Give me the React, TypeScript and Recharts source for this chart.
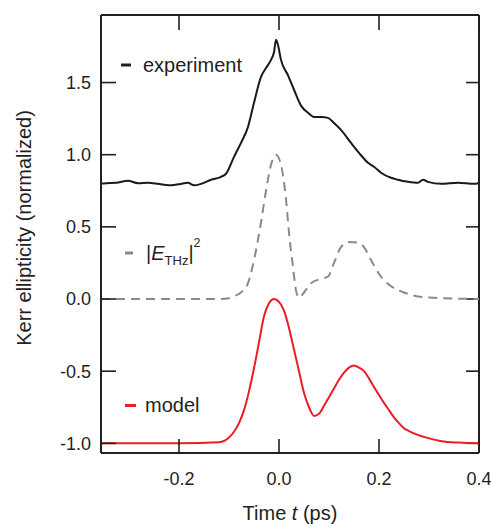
import { LineChart, Line, XAxis, YAxis, ReferenceLine } from "recharts";

// time axis in ps, Kerr ellipticity normalized (experiment offset by +0.8, model by -1)
const experimentT = [
  -0.356, -0.346, -0.326, -0.302, -0.282, -0.262, -0.242, -0.22, -0.202, -0.182,
  -0.17, -0.156, -0.136, -0.116, -0.106, -0.09, -0.076, -0.062, -0.05, -0.036,
  -0.026, -0.016, -0.01, -0.006, -0.002, 0.004, 0.018, 0.03, 0.044, 0.058,
  0.07, 0.084, 0.098, 0.11, 0.124, 0.144, 0.16, 0.178, 0.19, 0.204,
  0.224, 0.238, 0.258, 0.278, 0.288, 0.298, 0.324, 0.358, 0.39, 0.4,
];
const experimentV = [
  0.8, 0.803, 0.805, 0.819, 0.802, 0.805, 0.798, 0.788, 0.795, 0.805,
  0.788, 0.798, 0.826, 0.847, 0.868, 0.985, 1.082, 1.193, 1.36, 1.54,
  1.6, 1.657, 1.71, 1.796, 1.76, 1.657, 1.55, 1.45, 1.34, 1.29,
  1.262, 1.262, 1.255, 1.22, 1.172, 1.082, 1.013, 0.944, 0.916, 0.875,
  0.84, 0.826, 0.812, 0.805, 0.826, 0.812, 0.798, 0.805, 0.798, 0.805,
];

const fieldT = [
  -0.356, -0.2, -0.12, -0.1, -0.09, -0.076, -0.062, -0.05, -0.036, -0.026,
  -0.016, -0.006, 0.004, 0.014, 0.02, 0.028, 0.034, 0.04, 0.05, 0.064,
  0.084, 0.098, 0.11, 0.124, 0.14, 0.158, 0.17, 0.184, 0.204, 0.228,
  0.25, 0.3, 0.4,
];
const fieldV = [
  0, 0, 0, 0.005, 0.02, 0.046, 0.11, 0.27, 0.53, 0.75,
  0.93, 1.0, 0.93, 0.69, 0.46, 0.22, 0.06, 0.01, 0.045, 0.11,
  0.14, 0.155, 0.25, 0.36, 0.395, 0.39, 0.36, 0.27, 0.155, 0.08,
  0.045, 0.01, 0,
];

const modelT = [
  -0.356, -0.2, -0.12, -0.1, -0.09, -0.08, -0.07, -0.06, -0.05, -0.04,
  -0.03, -0.02, -0.01, 0.0, 0.01, 0.02, 0.03, 0.04, 0.05, 0.06,
  0.07, 0.08, 0.09, 0.1, 0.11, 0.12, 0.13, 0.14, 0.15, 0.16,
  0.17, 0.18, 0.19, 0.2, 0.21, 0.22, 0.23, 0.24, 0.25, 0.26,
  0.28, 0.3, 0.325, 0.36, 0.4,
];
const modelV = [
  -1.0, -1.0, -0.993, -0.96, -0.92, -0.86, -0.77, -0.64, -0.48, -0.3,
  -0.12, -0.03, 0.0, -0.02, -0.08, -0.2, -0.35, -0.5, -0.65, -0.75,
  -0.81, -0.795, -0.74, -0.68, -0.62, -0.56, -0.51, -0.475, -0.46, -0.475,
  -0.5, -0.55, -0.61, -0.665, -0.72, -0.77, -0.82, -0.86, -0.895, -0.915,
  -0.945, -0.965, -0.985, -0.995, -1.0,
];

const xTicks = [-0.2, 0.0, 0.2, 0.4];
const yTicks = [-1.0, -0.5, 0.0, 0.5, 1.0, 1.5];
const xDomain = [-0.356, 0.4];
const yDomain = [-1.067, 1.968];

const experiment = experimentT.map((t, i) => ({ t, v: experimentV[i] }));
const field = fieldT.map((t, i) => ({ t, v: fieldV[i] }));
const model = modelT.map((t, i) => ({ t, v: modelV[i] }));

const INK = "#231f20";
const GREY = "#8a8a8a";
const RED = "#ec1c24";
const FONT = "'Liberation Sans', Arial, Helvetica, sans-serif";

const tickStyle = { fontSize: 18, fill: INK, fontFamily: FONT };
const fmt = (v: number) => v.toFixed(1);

// inward tick length on the mirrored (top / right) sides, in data units
const TOP_TICK = 0.104;
const RIGHT_TICK = 0.026;

export default function App() {
  return (
    <div style={{ position: "absolute", left: 0, top: 0, width: 491, height: 526, background: "#fff" }}>
      <LineChart width={491} height={526} margin={{ top: 15, right: 12, bottom: 0, left: 0 }}>
        <XAxis
          xAxisId="b"
          dataKey="t"
          type="number"
          domain={xDomain}
          allowDataOverflow
          ticks={xTicks}
          tickFormatter={fmt}
          height={73}
          tickSize={-14}
          tickMargin={33}
          axisLine={{ stroke: INK, strokeWidth: 2 }}
          tickLine={{ stroke: INK, strokeWidth: 1.6 }}
          tick={tickStyle}
        />
        <YAxis
          yAxisId="l"
          type="number"
          domain={yDomain}
          allowDataOverflow
          ticks={yTicks}
          tickFormatter={fmt}
          width={101}
          tickSize={-15}
          tickMargin={25}
          axisLine={{ stroke: INK, strokeWidth: 2 }}
          tickLine={{ stroke: INK, strokeWidth: 1.6 }}
          tick={tickStyle}
        />

        {/* frame: top and right edges */}
        <ReferenceLine xAxisId="b" yAxisId="l" y={yDomain[1]} stroke={INK} strokeWidth={2} />
        <ReferenceLine xAxisId="b" yAxisId="l" x={xDomain[1]} stroke={INK} strokeWidth={2} />
        {xTicks.map((t) => (
          <ReferenceLine
            key={`tx${t}`}
            xAxisId="b"
            yAxisId="l"
            segment={[
              { x: t, y: yDomain[1] },
              { x: t, y: yDomain[1] - TOP_TICK },
            ]}
            stroke={INK}
            strokeWidth={1.6}
          />
        ))}
        {yTicks.map((v) => (
          <ReferenceLine
            key={`ty${v}`}
            xAxisId="b"
            yAxisId="l"
            segment={[
              { x: xDomain[1], y: v },
              { x: xDomain[1] - RIGHT_TICK, y: v },
            ]}
            stroke={INK}
            strokeWidth={1.6}
          />
        ))}

        <Line
          xAxisId="b"
          yAxisId="l"
          data={experiment}
          dataKey="v"
          type="monotone"
          stroke="#1a1a1a"
          strokeWidth={2}
          dot={false}
          isAnimationActive={false}
        />
        <Line
          xAxisId="b"
          yAxisId="l"
          data={field}
          dataKey="v"
          type="monotone"
          stroke={GREY}
          strokeWidth={2}
          strokeDasharray="9 6"
          dot={false}
          isAnimationActive={false}
        />
        <Line
          xAxisId="b"
          yAxisId="l"
          data={model}
          dataKey="v"
          type="monotone"
          stroke={RED}
          strokeWidth={2}
          dot={false}
          isAnimationActive={false}
        />
      </LineChart>
      <svg
        width={491}
        height={526}
        style={{ position: "absolute", left: 0, top: 0, pointerEvents: "none" }}
        fontFamily={FONT}
        fill={INK}
      >
        <text x={31} y={228} fontSize={20} textAnchor="middle" transform="rotate(-90 31 228)">
          Kerr ellipticity (normalized)
        </text>
        <text x={290} y={520} fontSize={20} textAnchor="middle">
          Time <tspan fontStyle="italic">t</tspan> (ps)
        </text>

        <line x1={121} x2={131} y1={65} y2={65} stroke={INK} strokeWidth={3} />
        <text x={143} y={71.5} fontSize={20}>experiment</text>

        <line x1={125} x2={133} y1={253} y2={253} stroke={GREY} strokeWidth={3} />
        <text x={146} y={260} fontSize={20}>
          |<tspan fontStyle="italic">E</tspan>
          <tspan fontSize={13} dy={4.5}>THz</tspan>
          <tspan dy={-4.5}>|</tspan>
          <tspan fontSize={12.5} dy={-13}>2</tspan>
        </text>

        <line x1={125} x2={136} y1={405.5} y2={405.5} stroke={RED} strokeWidth={3} />
        <text x={145} y={411.5} fontSize={20}>model</text>
      </svg>
    </div>
  );
}
